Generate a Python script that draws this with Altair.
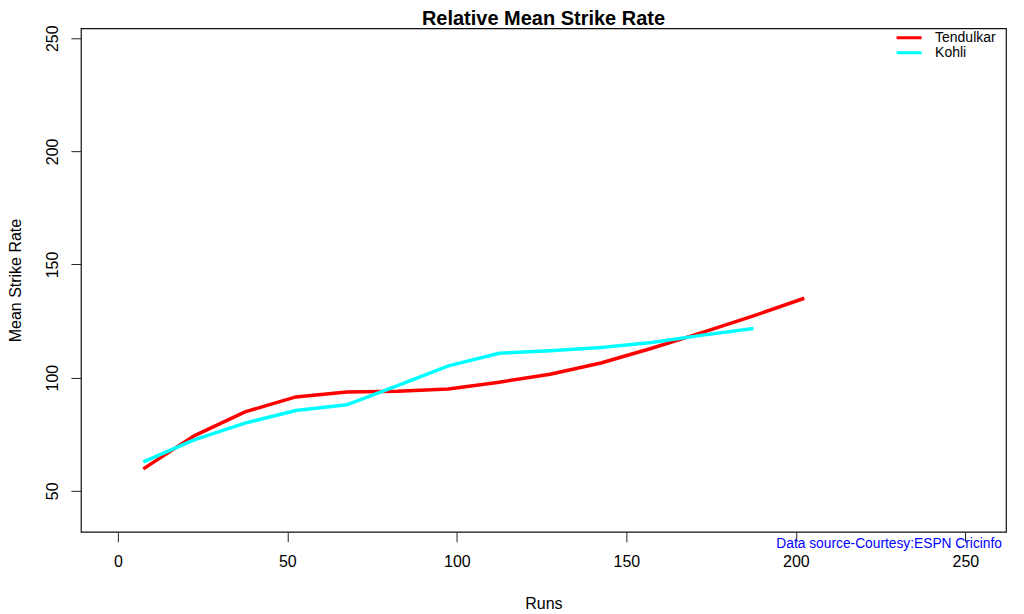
import altair as alt
import pandas as pd

# Data
runs_tendulkar = [7.5, 22.5, 37.5, 52.5, 67.5, 82.5, 97.5, 112.5, 127.5, 142.5, 157.5, 172.5, 187.5, 202.5]
sr_tendulkar = [59.7, 74.3, 84.9, 91.5, 93.7, 94.0, 95.0, 98.0, 101.5, 106.5, 113.0, 120.0, 127.3, 135.1]
runs_kohli = [7.5, 22.5, 37.5, 52.5, 67.5, 82.5, 97.5, 112.5, 127.5, 142.5, 157.5, 172.5, 187.5]
sr_kohli = [62.8, 72.5, 79.9, 85.5, 88.0, 96.5, 105.2, 110.8, 111.9, 113.3, 115.5, 118.8, 121.7]
players = ["Tendulkar", "Kohli"]
colors = ["#FF0000", "#00FFFF"]
x_ticks = [0, 50, 100, 150, 200, 250]
y_ticks = [50, 100, 150, 200, 250]
source_note = "Data source-Courtesy:ESPN Cricinfo"

df = pd.concat([
    pd.DataFrame({"Runs": runs_tendulkar, "SR": sr_tendulkar, "Player": players[0]}),
    pd.DataFrame({"Runs": runs_kohli, "SR": sr_kohli, "Player": players[1]}),
])

FONT = "Liberation Sans"
W, H = 926, 504

x_scale = alt.Scale(domain=[-10.9, 262], nice=False, zero=False)
y_scale = alt.Scale(domain=[31.9, 254.4], nice=False, zero=False)

lines = alt.Chart(df).mark_line(strokeWidth=3.5, clip=True).encode(
    x=alt.X("Runs:Q", scale=x_scale,
            axis=alt.Axis(values=x_ticks, title="Runs", tickSize=10, tickColor="#222",
                          tickWidth=1, domain=False, grid=False, labelFontSize=16,
                          labelPadding=12, labelColor="black", labelFont=FONT,
                          titleFont=FONT, titleFontSize=16, titleFontWeight="normal",
                          titleColor="black", titlePadding=26)),
    y=alt.Y("SR:Q", scale=y_scale,
            axis=alt.Axis(values=y_ticks, title="Mean Strike Rate", tickSize=10,
                          tickColor="#222", tickWidth=1, domain=False, grid=False,
                          labelFontSize=16, labelAngle=-90, labelAlign="center",
                          labelBaseline="bottom", labelPadding=10, labelColor="black",
                          labelFont=FONT, titleFont=FONT, titleFontSize=16,
                          titleFontWeight="normal", titleColor="black", titlePadding=21)),
    color=alt.Color("Player:N", sort=players,
                    scale=alt.Scale(domain=players, range=colors),
                    legend=alt.Legend(title=None, orient="none", legendX=815, legendY=2,
                                      symbolType="stroke", symbolSize=625,
                                      symbolStrokeWidth=3, labelFontSize=14,
                                      labelFont=FONT, labelColor="black",
                                      labelOffset=12, rowPadding=0, clipHeight=15)),
    detail="Player:N",
)

note = alt.Chart(pd.DataFrame({"t": [source_note]})).mark_text(
    align="right", baseline="middle", color="#0000FF", fontSize=13.8, font=FONT
).encode(text="t:N", x=alt.value(W - 4), y=alt.value(H + 12))

chart = alt.layer(lines, note).properties(
    width=W, height=H,
    title=alt.Title("Relative Mean Strike Rate", fontSize=20, fontWeight="bold",
                    font=FONT, color="black", anchor="middle", offset=-4),
    autosize=alt.AutoSizeParams(type="none"),
    padding={"left": 73, "top": 20, "right": 10, "bottom": 82},
    background="white",
).configure_view(stroke="#111", strokeWidth=1.2)

chart.save("out.html", embed_options={"renderer": "svg", "actions": False})
